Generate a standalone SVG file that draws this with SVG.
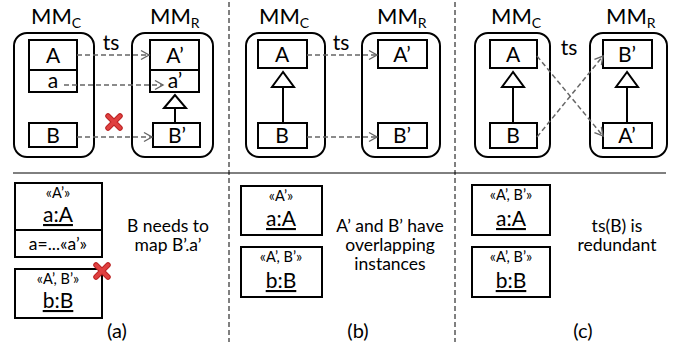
<svg xmlns="http://www.w3.org/2000/svg" width="678" height="347" viewBox="0 0 678 347">
<defs>
<marker id="ah" markerWidth="12" markerHeight="12" refX="9" refY="6" orient="auto" markerUnits="userSpaceOnUse">
<path d="M1,1.5 L9,6 L1,10.5" fill="none" stroke="#666" stroke-width="1.4"/>
</marker>
<g id="xmark">
<path d="M-6,-6 L6,6 M6,-6 L-6,6" stroke="#b22" stroke-width="5.5" stroke-linecap="round"/>
<path d="M-6,-6 L6,6 M6,-6 L-6,6" stroke="#e04040" stroke-width="3.5" stroke-linecap="round"/>
</g>
</defs>
<style>
text{font-family:Lato,"Liberation Sans",sans-serif;fill:#000}
.cont{fill:#fff;stroke:#000;stroke-width:2}
.box{fill:#fff;stroke:#000;stroke-width:2}
.t{font-size:21px;text-anchor:middle}
.mm{font-size:22px}
.sub{font-size:14px}
.st{font-size:14.5px;text-anchor:middle}
.ob{font-size:21px;text-anchor:middle;text-decoration:underline}
.desc{font-size:17.5px;text-anchor:middle}
.lab{font-size:20px;text-anchor:middle}
.dash{stroke:#666;stroke-width:1.5;stroke-dasharray:5,3;fill:none;marker-end:url(#ah)}
.gen{stroke:#000;stroke-width:2;fill:none}
.tri{fill:#fff;stroke:#000;stroke-width:2}
.sep{stroke:#000;stroke-width:1;stroke-dasharray:5,3}
</style>

<g id="separators">
<line class="sep" x1="229" y1="2" x2="229" y2="342"/>
<line class="sep" x1="455" y1="2" x2="455" y2="342"/>
<line x1="13" y1="173" x2="666" y2="173" stroke="#000" stroke-width="1"/>
</g>

<!-- Panel a -->
<g id="a-mmc"><text class="mm" x="31" y="24">MM<tspan class="sub" dy="4">C</tspan></text>
<rect class="cont" x="14" y="33" width="80" height="124" rx="13"/></g>
<g id="a-mmr"><text class="mm" x="150" y="24">MM<tspan class="sub" dy="4">R</tspan></text>
<rect class="cont" x="132" y="33" width="81" height="124" rx="13"/></g>
<g id="a-A"><rect class="box" x="29" y="40" width="48" height="30"/><text class="t" x="53" y="63">A</text>
<rect class="box" x="29" y="70" width="48" height="22"/><text class="t" x="53" y="88">a</text></g>
<g id="a-B"><rect class="box" x="29" y="123" width="48" height="24"/><text class="t" x="53" y="143">B</text></g>
<g id="a-A2"><rect class="box" x="150" y="40" width="49" height="30"/><text class="t" x="175" y="63">A’</text>
<rect class="box" x="150" y="70" width="49" height="22"/><text class="t" x="175" y="88">a’</text></g>
<g id="a-B2"><rect class="box" x="153" y="123" width="47" height="24"/><text class="t" x="177" y="143">B’</text></g>
<text class="t" x="111" y="50">ts</text>

<!-- Panel b -->
<g id="b-mmc"><text class="mm" x="259" y="24">MM<tspan class="sub" dy="4">C</tspan></text>
<rect class="cont" x="246" y="33" width="79" height="124" rx="13"/></g>
<g id="b-mmr"><text class="mm" x="377" y="24">MM<tspan class="sub" dy="4">R</tspan></text>
<rect class="cont" x="362" y="33" width="78" height="124" rx="13"/></g>
<g id="b-A"><rect class="box" x="258" y="40" width="49" height="28"/><text class="t" x="282" y="62">A</text></g>
<g id="b-B"><rect class="box" x="258" y="123" width="49" height="25"/><text class="t" x="282" y="143">B</text></g>
<g id="b-A2"><rect class="box" x="378" y="40" width="49" height="28"/><text class="t" x="402" y="62">A’</text></g>
<g id="b-B2"><rect class="box" x="378" y="123" width="49" height="25"/><text class="t" x="402" y="143">B’</text></g>
<text class="t" x="341" y="50">ts</text>

<!-- Panel c -->
<g id="c-mmc"><text class="mm" x="491" y="24">MM<tspan class="sub" dy="4">C</tspan></text>
<rect class="cont" x="475" y="33" width="75" height="124" rx="13"/></g>
<g id="c-mmr"><text class="mm" x="606" y="24">MM<tspan class="sub" dy="4">R</tspan></text>
<rect class="cont" x="590" y="33" width="77" height="124" rx="13"/></g>
<g id="c-A"><rect class="box" x="490" y="40" width="47" height="28"/><text class="t" x="513" y="62">A</text></g>
<g id="c-B"><rect class="box" x="490" y="123" width="47" height="25"/><text class="t" x="513" y="143">B</text></g>
<g id="c-B2"><rect class="box" x="603" y="40" width="49" height="28"/><text class="t" x="627" y="62">B’</text></g>
<g id="c-A2"><rect class="box" x="603" y="123" width="49" height="25"/><text class="t" x="627" y="143">A’</text></g>
<text class="t" x="569" y="55">ts</text>

<g id="connectors">
<line class="dash" x1="77" y1="55" x2="149" y2="55"/>
<line class="dash" x1="64" y1="85" x2="163" y2="85"/>
<line class="dash" x1="77" y1="137" x2="152" y2="137"/>
<line class="gen" x1="175" y1="108" x2="175" y2="123"/>
<polygon class="tri" points="175,95 164,108 186,108"/>
<line class="dash" x1="307" y1="55" x2="377" y2="55"/>
<line class="dash" x1="307" y1="137" x2="377" y2="137"/>
<line class="gen" x1="283" y1="87" x2="283" y2="123"/>
<polygon class="tri" points="283,72 272,87 294,87"/>
<line class="dash" x1="537" y1="56" x2="603" y2="136"/>
<line class="dash" x1="537" y1="137" x2="603" y2="56"/>
<line class="gen" x1="513" y1="87" x2="513" y2="123"/>
<polygon class="tri" points="513,72 502,87 524,87"/>
<line class="gen" x1="627" y1="87" x2="627" y2="123"/>
<polygon class="tri" points="627,72 616,87 638,87"/>
</g>
<use href="#xmark" x="114" y="122"/>

<!-- bottom a -->
<g id="a-obj1"><rect class="box" x="15" y="183" width="87" height="47"/>
<text class="st" x="58" y="198">«A’»</text><text class="ob" x="58" y="222">a:A</text>
<rect class="box" x="15" y="230" width="87" height="27"/><text class="desc" x="58" y="250">a=...«a’»</text></g>
<g id="a-obj2"><rect class="box" x="15" y="269" width="87" height="49"/>
<text class="st" x="58" y="284">«A’, B’»</text><text class="ob" x="58" y="308">b:B</text></g>
<use href="#xmark" x="102" y="271"/>
<text class="desc" x="168" y="232">B needs to</text>
<text class="desc" x="168" y="251">map B’.a’</text>
<text class="lab" x="117" y="338">(a)</text>

<!-- bottom b -->
<g id="b-obj1"><rect class="box" x="241" y="186" width="81" height="49"/>
<text class="st" x="281" y="201">«A’»</text><text class="ob" x="281" y="226">a:A</text></g>
<g id="b-obj2"><rect class="box" x="241" y="247" width="81" height="50"/>
<text class="st" x="281" y="262">«A’, B’»</text><text class="ob" x="281" y="288">b:B</text></g>
<text class="desc" x="390" y="232">A’ and B’ have</text>
<text class="desc" x="390" y="251">overlapping</text>
<text class="desc" x="390" y="270">instances</text>
<text class="lab" x="358" y="338">(b)</text>

<!-- bottom c -->
<g id="c-obj1"><rect class="box" x="472" y="185" width="78" height="50"/>
<text class="st" x="511" y="200">«A’, B’»</text><text class="ob" x="511" y="226">a:A</text></g>
<g id="c-obj2"><rect class="box" x="472" y="247" width="78" height="50"/>
<text class="st" x="511" y="262">«A’, B’»</text><text class="ob" x="511" y="288">b:B</text></g>
<text class="desc" x="617" y="232">ts(B) is</text>
<text class="desc" x="617" y="251">redundant</text>
<text class="lab" x="583" y="338">(c)</text>
</svg>
